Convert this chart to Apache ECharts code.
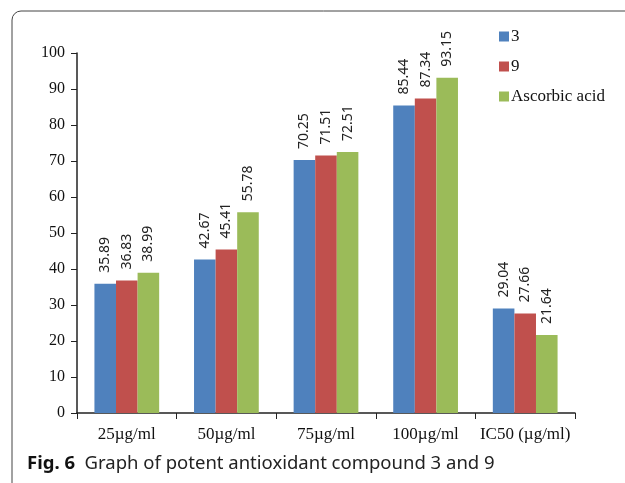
<!DOCTYPE html>
<html>
<head>
<meta charset="utf-8">
<script src="https://cdn.jsdelivr.net/npm/echarts@6/dist/echarts.min.js"></script>
<style>
  html, body { margin: 0; padding: 0; background: #fff; }
  #chart { width: 625px; height: 483px; }
</style>
</head>
<body>
<div id="chart"></div>
<script>
// Antioxidant activity (%) per concentration, and IC50 values
const categories = ['25µg/ml', '50µg/ml', '75µg/ml', '100µg/ml', 'IC50 (µg/ml)'];
const compound3 = [35.89, 42.67, 70.25, 85.44, 29.04];
const compound9 = [36.83, 45.41, 71.51, 87.34, 27.66];
const ascorbicAcid = [38.99, 55.78, 72.51, 93.15, 21.64];
const seriesNames = ['3', '9', 'Ascorbic acid'];
const seriesColors = ['#4F81BD', '#C0504D', '#9BBB59'];

const serif = 'Liberation Serif';

function barSeries(name, data, color) {
  return {
    name: name,
    type: 'bar',
    data: data,
    barGap: '0%',
    barCategoryGap: '35%',
    itemStyle: { color: color },
    label: {
      show: true,
      position: 'top',
      rotate: 90,
      align: 'left',
      verticalAlign: 'middle',
      distance: 11,
      fontFamily: 'Noto Sans',
      fontSize: 14,
      color: '#222',
      formatter: p => p.value.toFixed(2)
    }
  };
}

const chart = echarts.init(document.getElementById('chart'), null, { renderer: 'canvas' });
chart.setOption({
  animation: false,
  backgroundColor: '#fff',
  grid: { left: 77, right: 50, top: 53, bottom: 70, containLabel: false },
  legend: {
    orient: 'vertical',
    left: 494,
    top: 23,
    itemWidth: 10,
    itemHeight: 10,
    itemGap: 13,
    icon: 'rect',
    textStyle: { fontFamily: serif, fontSize: 17, color: '#111', padding: [2, 0, 0, -3] },
    data: seriesNames
  },
  xAxis: {
    type: 'category',
    data: categories,
    axisLine: { lineStyle: { color: '#222', width: 1.5 } },
    axisTick: { show: true, length: 6, inside: false, lineStyle: { color: '#222' } },
    axisLabel: { interval: 0, fontFamily: serif, fontSize: 17, color: '#111', margin: 13 }
  },
  yAxis: {
    type: 'value',
    min: 0,
    max: 100,
    interval: 10,
    splitLine: { show: false },
    axisLine: { show: true, lineStyle: { color: '#222', width: 1.5 } },
    axisTick: { show: true, length: 6, lineStyle: { color: '#222' } },
    axisLabel: { fontFamily: serif, fontSize: 16, color: '#111', margin: 12 }
  },
  graphic: [
    {
      type: 'rect',
      shape: { x: 12, y: 11, width: 700, height: 600, r: 9 },
      style: { fill: 'none', stroke: '#444', lineWidth: 1 },
      silent: true
    },
    {
      type: 'text',
      left: 27,
      top: 454,
      style: {
        rich: {
          b: { fontFamily: 'Noto Sans', fontWeight: 'bold', fontSize: 18.5, fill: '#111' },
          n: { fontFamily: 'Noto Sans', fontSize: 18.5, fill: '#222' }
        },
        text: '{b|Fig. 6}{n|  Graph of potent antioxidant compound 3 and 9}'
      }
    }
  ],
  series: [
    barSeries(seriesNames[0], compound3, seriesColors[0]),
    barSeries(seriesNames[1], compound9, seriesColors[1]),
    barSeries(seriesNames[2], ascorbicAcid, seriesColors[2])
  ]
});
</script>
</body>
</html>
